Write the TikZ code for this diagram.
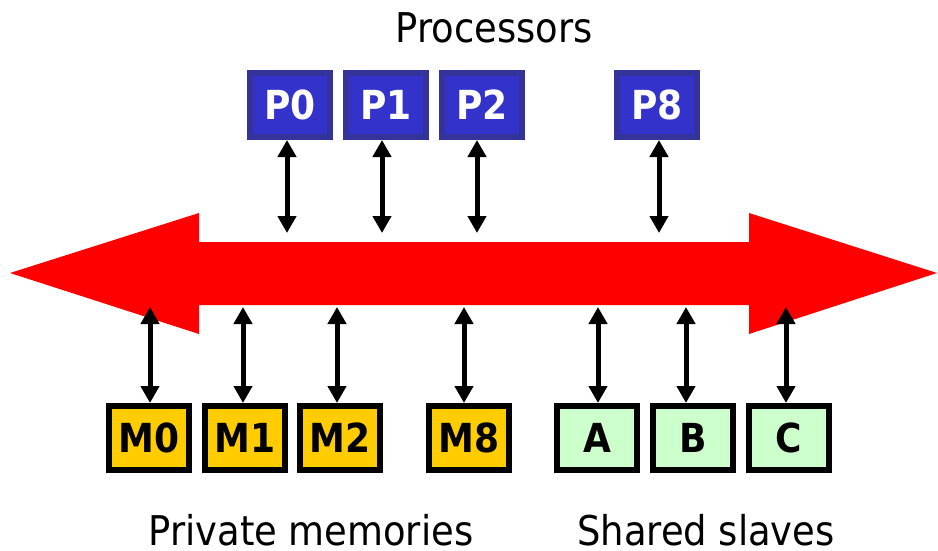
\documentclass[tikz,border=0pt]{standalone}
\usepackage{fontspec}
\setmainfont{DejaVu Sans Condensed}
\usetikzlibrary{arrows.meta}
\definecolor{pfill}{HTML}{3333CC}
\definecolor{pborder}{HTML}{333399}
\definecolor{mfill}{HTML}{FFCC00}
\definecolor{sfill}{HTML}{CCFFCC}
\definecolor{busred}{HTML}{FF0000}
\tikzset{
  x=1pt, y=-1pt,
  box/.style={draw, line width=6pt, minimum width=80pt, minimum height=64pt, inner sep=0pt,
    font=\fontsize{40}{48}\selectfont\bfseries},
  pbox/.style={box, draw=pborder, fill=pfill, text=white},
  mbox/.style={box, draw=black, fill=mfill, text=black},
  sbox/.style={box, draw=black, fill=sfill, text=black},
  biarrow/.style={line width=5pt, arrows={Triangle[width=18pt,length=17pt]-Triangle[width=18pt,length=17pt]}},
  caption/.style={anchor=base, font=\fontsize{41}{49}\selectfont, inner sep=0pt}
}
\begin{document}
\begin{tikzpicture}
\useasboundingbox (0,0) rectangle (938,551);
% bus
\fill[busred] (10,273) -- (199,213) -- (199,242) -- (749,242) -- (749,213) -- (937,273)
  -- (749,334) -- (749,305) -- (199,305) -- (199,334) -- cycle;
% captions
\node[caption] (cproc) at (494,43) {Processors};
\node[caption] (cmem) at (311,545) {Private memories};
\node[caption] (cslv) at (706,545) {Shared slaves};
% processors
\node[pbox] (P0) at (290,105) {P0};
\node[pbox] (P1) at (386,105) {P1};
\node[pbox] (P2) at (482,105) {P2};
\node[pbox] (P8) at (657,105) {P8};
% memories and slaves
\node[mbox] (M0) at (149,438) {M0};
\node[mbox] (M1) at (245,438) {M1};
\node[mbox] (M2) at (340,438) {M2};
\node[mbox] (M8) at (469,438) {M8};
\node[sbox] (A) at (597,438) {A};
\node[sbox] (B) at (693,438) {B};
\node[sbox] (C) at (789,438) {C};
% bus attachment points
\coordinate (bP0) at (287,233);
\coordinate (bP1) at (382,233);
\coordinate (bP2) at (477,233);
\coordinate (bP8) at (659,233);
\coordinate (bM0) at (150,307);
\coordinate (bM1) at (243,307);
\coordinate (bM2) at (337,307);
\coordinate (bM8) at (464,307);
\coordinate (bA) at (598,307);
\coordinate (bB) at (686,307);
\coordinate (bC) at (786,307);
% connectors
\foreach \n in {P0,P1,P2,P8}{
  \draw[biarrow] (b\n |- \n.south) -- (b\n);
}
\foreach \n in {M0,M1,M2,M8,A,B,C}{
  \draw[biarrow] (b\n |- \n.north) -- (b\n);
}
\end{tikzpicture}
\end{document}
